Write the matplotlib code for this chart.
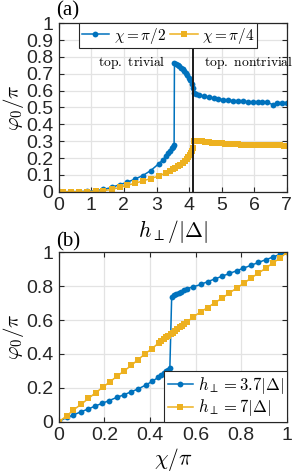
import numpy as np
import matplotlib
matplotlib.use('Agg')
import matplotlib.pyplot as plt

plt.rcParams['font.family'] = ['Liberation Sans', 'DejaVu Sans']
plt.rcParams['mathtext.fontset'] = 'cm'

BLUE = '#0072BD'
ORANGE = '#EDB120'

# (a) phi_0/pi vs h_perp/|Delta|
h_blue = [0, 0.14, 0.39, 0.63, 0.88, 1.13, 1.37, 1.62, 1.87, 2.1, 2.34, 2.58,
          2.82, 3.07, 3.2, 3.29, 3.36, 3.42, 3.47, 3.51, 3.54, 3.55, 3.6, 3.65,
          3.7, 3.75, 3.8, 3.85, 3.9, 3.95, 4.0, 4.04, 4.08, 4.11, 4.14, 4.2,
          4.3, 4.45, 4.6, 4.75, 4.9, 5.05, 5.2, 5.35, 5.5, 5.65, 5.8, 5.95,
          6.1, 6.25, 6.4, 6.56, 6.7, 6.85, 7.0]
phi_blue = [0, 0, 0, 0.001, 0.002, 0.006, 0.013, 0.025, 0.042, 0.056, 0.075,
            0.096, 0.125, 0.166, 0.19, 0.211, 0.228, 0.243, 0.257, 0.268,
            0.277, 0.762, 0.757, 0.751, 0.744, 0.736, 0.727, 0.717, 0.706,
            0.693, 0.678, 0.662, 0.64, 0.618, 0.588, 0.58, 0.573, 0.566, 0.56,
            0.556, 0.551, 0.547, 0.543, 0.541, 0.539, 0.537, 0.535, 0.533,
            0.532, 0.531, 0.53, 0.517, 0.528, 0.529, 0.529]

h_orange = [0, 0.14, 0.39, 0.63, 0.88, 1.13, 1.37, 1.62, 1.87, 2.1, 2.34, 2.58,
            2.82, 3.07, 3.29, 3.4, 3.5, 3.58, 3.66, 3.73, 3.8, 3.86, 3.92,
            3.97, 4.02, 4.06, 4.09, 4.12, 4.15, 4.2, 4.3, 4.4, 4.5, 4.6, 4.7,
            4.8, 4.9, 5.0, 5.1, 5.2, 5.3, 5.4, 5.5, 5.6, 5.7, 5.8, 5.9, 6.0,
            6.1, 6.2, 6.3, 6.4, 6.5, 6.6, 6.7, 6.8, 6.9, 7.0]
phi_orange = [0, 0, 0, 0, 0.001, 0.003, 0.006, 0.013, 0.025, 0.038, 0.05,
              0.064, 0.078, 0.093, 0.112, 0.123, 0.133, 0.142, 0.151, 0.16,
              0.17, 0.18, 0.192, 0.203, 0.217, 0.23, 0.244, 0.258, 0.302,
              0.303, 0.302, 0.299, 0.297, 0.294, 0.292, 0.29, 0.288, 0.287,
              0.286, 0.285, 0.283, 0.282, 0.281, 0.28, 0.279, 0.278, 0.277,
              0.277, 0.276, 0.276, 0.279, 0.278, 0.277, 0.276, 0.275, 0.275,
              0.274, 0.274]

h_transition = 4.123

# (b) phi_0/pi vs chi/pi
chi_blue = [0, 0.035, 0.064, 0.098, 0.13, 0.159, 0.19, 0.22, 0.254, 0.286,
            0.317, 0.349, 0.381, 0.41, 0.436, 0.45, 0.46, 0.47, 0.478, 0.487,
            0.495, 0.505, 0.515, 0.525, 0.535, 0.547, 0.561, 0.59, 0.622,
            0.653, 0.685, 0.717, 0.748, 0.78, 0.809, 0.841, 0.875, 0.907,
            0.937, 0.97, 1.0]
phi_chi_blue = [0, 0.025, 0.039, 0.059, 0.075, 0.092, 0.108, 0.124, 0.143,
                0.159, 0.176, 0.194, 0.216, 0.238, 0.262, 0.276, 0.287, 0.298,
                0.306, 0.314, 0.736, 0.745, 0.753, 0.761, 0.768, 0.776, 0.785,
                0.796, 0.81, 0.827, 0.843, 0.859, 0.875, 0.891, 0.906, 0.922,
                0.94, 0.956, 0.971, 0.988, 1.0]

chi_orange = [0, 0.035, 0.064, 0.098, 0.13, 0.162, 0.192, 0.224, 0.256, 0.287,
              0.319, 0.348, 0.38, 0.409, 0.438, 0.45, 0.46, 0.47, 0.48, 0.49,
              0.5, 0.51, 0.52, 0.53, 0.54, 0.55, 0.56, 0.59, 0.622, 0.653,
              0.685, 0.717, 0.748, 0.78, 0.812, 0.843, 0.875, 0.907, 0.937,
              0.969, 1.0]
phi_chi_orange = [0, 0.033, 0.069, 0.102, 0.137, 0.171, 0.202, 0.235, 0.269,
                  0.3, 0.333, 0.367, 0.402, 0.431, 0.465, 0.477, 0.487, 0.497,
                  0.507, 0.517, 0.526, 0.536, 0.546, 0.556, 0.566, 0.576,
                  0.586, 0.619, 0.648, 0.674, 0.703, 0.73, 0.76, 0.789, 0.818,
                  0.848, 0.877, 0.906, 0.936, 0.965, 1.0]


def style(ax):
    ax.grid(True, color='#e3e3e3', lw=0.9)
    ax.set_axisbelow(True)
    ax.tick_params(direction='in', length=3.5, width=0.8, top=True,
                   right=True, labelsize=14, colors='#262626', pad=4)
    for s in ax.spines.values():
        s.set_color('#262626')
        s.set_linewidth(0.9)


fig = plt.figure(figsize=(2.93, 4.76), dpi=100)

ax1 = fig.add_axes([0.2003, 0.5973, 0.779, 0.3538])
ax1.plot(h_blue, phi_blue, '-o', color=BLUE, lw=1.1, ms=4.2, mew=0,
         label=r'$\chi=\pi/2$')
ax1.plot(h_orange, phi_orange, '-s', color=ORANGE, lw=1.1, ms=3.9, mew=0,
         label=r'$\chi=\pi/4$')
ax1.axvline(h_transition, color='#1a1a1a', lw=1.4)
ax1.set_xlim(0, 7)
ax1.set_ylim(0, 1)
ax1.set_xticks(np.arange(0, 8))
ax1.set_yticks(np.arange(0, 1.01, 0.1))
ax1.set_yticklabels(['0', '0.1', '0.2', '0.3', '0.4', '0.5', '0.6', '0.7',
                     '0.8', '0.9', '1'])
style(ax1)
ax1.set_xlabel(r'$h_\perp/|\Delta|$', fontsize=15.5, labelpad=3)
ax1.set_ylabel(r'$\varphi_0/\pi$', fontsize=15)
ax1.yaxis.set_label_coords(-0.145, 0.5)
ax1.text(1.2, 0.77, r'$\mathrm{top.\ trivial}$', fontsize=9.8,
         va='center', ha='left')
ax1.text(4.46, 0.77, r'$\mathrm{top.\ nontrivial}$', fontsize=9.8,
         va='center', ha='left')
leg1 = ax1.legend(loc='upper center', bbox_to_anchor=(0.48, 1.0), ncol=2,
                  fontsize=11, handlelength=1.8, handletextpad=0.3,
                  columnspacing=0.3, borderaxespad=0, borderpad=0.15,
                  fancybox=False, framealpha=1, edgecolor='#262626')
leg1.get_frame().set_linewidth(0.8)

ax2 = fig.add_axes([0.2003, 0.1141, 0.779, 0.3559])
ax2.plot(chi_blue, phi_chi_blue, '-o', color=BLUE, lw=1.1, ms=4.2, mew=0,
         label=r'$h_\perp = 3.7|\Delta|$')
ax2.plot(chi_orange, phi_chi_orange, '-s', color=ORANGE, lw=1.1, ms=3.9,
         mew=0, label=r'$h_\perp = 7|\Delta|$')
ax2.set_xlim(0, 1)
ax2.set_ylim(0, 1)
ax2.set_xticks(np.arange(0, 1.01, 0.2))
ax2.set_xticklabels(['0', '0.2', '0.4', '0.6', '0.8', '1'])
ax2.set_yticks(np.arange(0, 1.01, 0.2))
ax2.set_yticklabels(['0', '0.2', '0.4', '0.6', '0.8', '1'])
style(ax2)
ax2.set_xlabel(r'$\chi/\pi$', fontsize=15.5, labelpad=1)
ax2.set_ylabel(r'$\varphi_0/\pi$', fontsize=15)
ax2.yaxis.set_label_coords(-0.145, 0.5)
leg2 = ax2.legend(loc='lower right', fontsize=12, handlelength=1.5,
                  handletextpad=0.3, borderaxespad=0, borderpad=0.2,
                  labelspacing=0.1, fancybox=False, framealpha=1,
                  edgecolor='#262626')
leg2.get_frame().set_linewidth(0.8)

fig.text(0.19, 0.997, '(a)', family='Liberation Serif', fontsize=15,
         ha='left', va='top')
fig.text(0.19, 0.513, '(b)', family='Liberation Serif', fontsize=15,
         ha='left', va='top')

fig.savefig('out.png', dpi=100)
